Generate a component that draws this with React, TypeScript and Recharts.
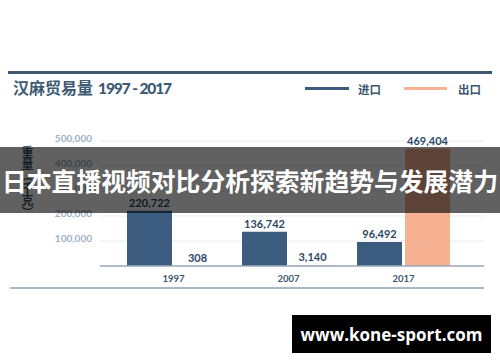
import React from 'react';
import { BarChart, Bar, XAxis, YAxis, CartesianGrid, LabelList } from 'recharts';

const years = ['1997', '2007', '2017'];
const importValues = [220722, 136742, 96492];
const exportValues = [308, 3140, 469404];
const yTicks = [100000, 200000, 300000, 400000, 500000];
const titleText = '汉麻贸易量';
const titleYears = '1997 - 2017';
const legendLabels = ['进口', '出口'];
const yAxisTitle = '重量（千克）';
const bannerText = '日本直播视频对比分析探索新趋势与发展潜力';
const watermark = 'www.kone-sport.com';

const data = years.map((y, i) => ({ year: y, imp: importValues[i], exp: exportValues[i] }));

const NAVY = '#3b5c7e';
const SALMON = '#f5b192';
const TEXT = '#3b5670';
const FONT = 'Lato, "Noto Sans CJK SC", sans-serif';

const fmt = (v: number) => v.toLocaleString('en-US');

const YTick = (props: any) => {
  const { x, y, payload } = props;
  return (
    <text x={x} y={y - 3} textAnchor="end" dominantBaseline="central" fill="#9db1c6" fontSize={10} fontWeight={700} fontFamily={FONT}>
      {fmt(payload.value)}
    </text>
  );
};

const XTick = (props: any) => {
  const { x, y, payload } = props;
  return (
    <text x={x} y={y + 10} textAnchor="middle" dominantBaseline="central" fill={TEXT} fontSize={9.5} fontWeight={700} fontFamily={FONT}>
      {payload.value}
    </text>
  );
};

export default function App() {
  return (
    <div style={{ position: 'fixed', left: 0, top: 0, width: 500, height: 362, background: '#fff', overflow: 'hidden', fontFamily: FONT }}>
      <div style={{ position: 'absolute', left: 8, top: 71, width: 484, height: 2.5, background: '#3e5a73' }} />
      <div style={{ position: 'absolute', left: 13, top: 77, fontSize: 16, fontWeight: 700, color: '#3e5a73', whiteSpace: 'nowrap', lineHeight: '20px' }}>
        <span style={{ fontFamily: '"Noto Sans CJK SC", sans-serif' }}>{titleText}</span>
        <span style={{ fontFamily: 'Lato, sans-serif', fontWeight: 900, fontSize: 15.5, letterSpacing: -1.1, marginLeft: 5 }}>{titleYears}</span>
      </div>
      <div style={{ position: 'absolute', left: 305, top: 87, width: 44, height: 2.5, background: NAVY }} />
      <div style={{ position: 'absolute', left: 358, top: 81, fontSize: 11.5, fontWeight: 700, color: TEXT, lineHeight: '16px', fontFamily: '"Noto Sans CJK SC", sans-serif' }}>{legendLabels[0]}</div>
      <div style={{ position: 'absolute', left: 404, top: 87, width: 43, height: 2.5, background: SALMON }} />
      <div style={{ position: 'absolute', left: 458, top: 81, fontSize: 11.5, fontWeight: 700, color: TEXT, lineHeight: '16px', fontFamily: '"Noto Sans CJK SC", sans-serif' }}>{legendLabels[1]}</div>

      <div style={{ position: 'absolute', left: 0, top: 0 }}>
        <BarChart width={500} height={362} data={data} margin={{ top: 141, right: 16, bottom: 66, left: 0 }} barSize={45} barGap={3}>
          <CartesianGrid vertical={false} stroke="#e6eaef" />
          <YAxis width={100} domain={[0, 500000]} ticks={yTicks} axisLine={false} tickLine={false} tick={<YTick />} />
          <XAxis dataKey="year" height={30} padding={{ left: 16, right: 23 }} tickLine={false} tickSize={0} tick={<XTick />} axisLine={{ stroke: '#9aabbd', strokeWidth: 1.5 }} />
          <Bar dataKey="imp" fill={NAVY} isAnimationActive={false}>
            <LabelList dataKey="imp" position="top" offset={4} formatter={(v: any) => fmt(Number(v))} style={{ fill: '#2c4864', fontSize: 11, fontWeight: 700, fontFamily: FONT }} />
          </Bar>
          <Bar dataKey="exp" fill={SALMON} isAnimationActive={false}>
            <LabelList dataKey="exp" position="top" offset={4} formatter={(v: any) => fmt(Number(v))} style={{ fill: '#2c4864', fontSize: 11, fontWeight: 700, fontFamily: FONT }} />
          </Bar>
        </BarChart>
      </div>

      <div style={{ position: 'absolute', left: 10, top: 287, width: 474, height: 1.5, background: '#a9b8c7' }} />

      <div style={{ position: 'absolute', left: 20, top: 146, writingMode: 'vertical-rl', fontSize: 12, fontWeight: 700, color: TEXT, lineHeight: '14px', fontFamily: '"Noto Sans CJK SC", sans-serif' }}>
        {yAxisTitle}
      </div>

      <div style={{ position: 'absolute', left: 0, top: 147, width: 500, height: 66, background: 'rgba(0,0,0,0.62)', display: 'flex', alignItems: 'center', justifyContent: 'center' }}>
        <span style={{ color: '#fff', fontSize: 24.8, fontWeight: 700, whiteSpace: 'nowrap', fontFamily: '"Noto Sans CJK SC", sans-serif', lineHeight: '30px' }}>{bannerText}</span>
      </div>

      <div style={{ position: 'absolute', left: 292, top: 315, width: 199, height: 38, background: '#000', display: 'flex', alignItems: 'center', justifyContent: 'center' }}>
        <span style={{ color: '#fff', fontSize: 17, fontWeight: 700, whiteSpace: 'nowrap', fontFamily: '"Open Sans", sans-serif' }}>{watermark}</span>
      </div>
    </div>
  );
}
